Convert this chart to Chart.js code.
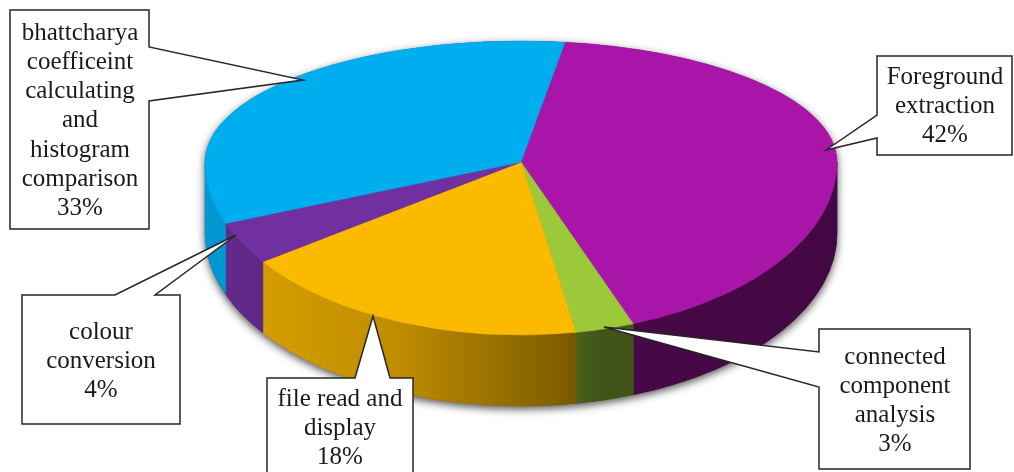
<!DOCTYPE html>
<html><head><meta charset="utf-8">
<script src="https://cdn.jsdelivr.net/npm/chart.js@4.4.0/dist/chart.umd.min.js"></script>
<style>html,body{margin:0;padding:0;background:#fff;overflow:hidden}#wrap{width:1014px;height:472px;position:relative}</style>
</head><body><div id="wrap"><canvas id="c" width="1014" height="472"></canvas></div>
<script>
// ---- data ----
const categories = ['Foreground extraction', 'connected component analysis', 'file read and display', 'colour conversion', 'bhattcharya coefficeint calculating and histogram comparison'];
const values = [42, 3, 18, 4, 33];
const sliceColors = ['#A815A8', '#9BC93A', '#FBBA00', '#7030A0', '#00ADEF'];
const labelLines = [
  ['Foreground', 'extraction'],
  ['connected', 'component', 'analysis'],
  ['file read and', 'display'],
  ['colour', 'conversion'],
  ['bhattcharya', 'coefficeint', 'calculating', 'and', 'histogram', 'comparison']
];
const startRotation = 8;

// ---- layout (positions/styles) ----
// perspective-like: far half flatter than near half, sharing the apex
const geom = {cx: 521, cy: 162, rx: 316, ryBack: 121, ryFront: 173, depth: 71};
const callouts = [
  {poly: [[877,56],[1012,56],[1012,155],[877,155],[877,138],[826,150],[877,115]], tx: 945, ty: 77},
  {poly: [[819,329],[970,329],[970,469],[819,469],[819,387],[604,327],[819,352]], tx: 895, ty: 357},
  {poly: [[267,378],[355,378],[373,316],[390,378],[413,378],[413,482],[267,482]], tx: 340, ty: 399},
  {poly: [[22,295],[115,295],[236,235],[155,295],[180,295],[180,424],[22,424]], tx: 101, ty: 332},
  {poly: [[10,10],[149,10],[149,47],[303,80],[149,101],[149,229],[10,229]], tx: 80, ty: 33}
];
const lineH = 29.3;

function shade(hex, f) {
  const n = parseInt(hex.slice(1), 16);
  const r = Math.round(((n >> 16) & 255) * f), g = Math.round(((n >> 8) & 255) * f), b = Math.round((n & 255) * f);
  return `rgb(${r},${g},${b})`;
}

function setHalf(ctx, arc, upper) {
  const {cx, cy, rx, ryBack, ryFront} = geom;
  const R = arc.outerRadius, xc = arc.x, yc = arc.y;
  const ry = upper ? ryBack : ryFront;
  ctx.translate(cx, cy);
  ctx.scale(rx / R, ry / R);
  ctx.translate(-xc, -yc);
  ctx.beginPath();
  if (upper) ctx.rect(xc - R - 4, yc - R - 4, 2 * R + 8, R + 4.3);
  else ctx.rect(xc - R - 4, yc - 0.6, 2 * R + 8, R + 5);
  ctx.clip();
}

const pie3d = {
  id: 'pie3d',
  beforeDatasetsDraw(chart) {
    const ctx = chart.ctx;
    const arcs = chart.getDatasetMeta(0).data;
    const {cx, cy, rx, ryBack, ryFront, depth} = geom;
    // soft shadow under the pie
    ctx.save();
    ctx.shadowColor = 'rgba(0,0,0,0.7)';
    ctx.shadowBlur = 9; ctx.shadowOffsetY = 3; ctx.shadowOffsetX = 0;
    ctx.beginPath();
    ctx.moveTo(cx + rx, cy);
    ctx.lineTo(cx + rx, cy + depth);
    ctx.ellipse(cx, cy + depth, rx, ryFront, 0, 0, Math.PI, false);
    ctx.lineTo(cx - rx, cy);
    ctx.ellipse(cx, cy, rx, ryBack, 0, Math.PI, 2 * Math.PI, false);
    ctx.closePath();
    ctx.fillStyle = '#333';
    ctx.fill();
    ctx.restore();
    // side walls (front half only)
    const TAU = Math.PI * 2;
    arcs.forEach((arc, i) => {
      let s = arc.startAngle, e = arc.endAngle;
      const off = Math.floor(s / TAU) * TAU; s -= off; e -= off;
      const col = sliceColors[i];
      const grad = ctx.createLinearGradient(cx - rx, 0, cx + rx, 0);
      grad.addColorStop(0, shade(col, 0.88));
      grad.addColorStop(0.3, shade(col, 0.76));
      grad.addColorStop(0.55, shade(col, 0.52));
      grad.addColorStop(0.63, shade(col, 0.42));
      grad.addColorStop(1, shade(col, 0.4));
      [[0, Math.PI], [TAU, TAU + Math.PI]].forEach(([lo, hi]) => {
        const a = Math.max(s, lo), b = Math.min(e, hi);
        if (b > a) {
          ctx.beginPath();
          ctx.ellipse(cx, cy, rx, ryFront, 0, a, b, false);
          ctx.lineTo(cx + rx * Math.cos(b), cy + depth + ryFront * Math.sin(b));
          ctx.ellipse(cx, cy + depth, rx, ryFront, 0, b, a, true);
          ctx.closePath();
          ctx.fillStyle = grad;
          ctx.fill();
          ctx.strokeStyle = grad; ctx.lineWidth = 0.8; ctx.stroke();
        }
      });
    });
    // top faces: far half drawn by Chart.js with the flatter transform
    ctx.save();
    setHalf(ctx, arcs[0], true);
  },
  afterDatasetsDraw(chart) {
    const ctx = chart.ctx;
    ctx.restore();
    // near half: same arc elements, deeper transform
    const arcs = chart.getDatasetMeta(0).data;
    ctx.save();
    setHalf(ctx, arcs[0], false);
    arcs.forEach(a => a.draw(ctx));
    ctx.restore();
  },
  afterDraw(chart) {
    const ctx = chart.ctx;
    ctx.save();
    callouts.forEach((c, i) => {
      ctx.beginPath();
      c.poly.forEach((p, k) => k ? ctx.lineTo(p[0], p[1]) : ctx.moveTo(p[0], p[1]));
      ctx.closePath();
      ctx.fillStyle = '#fff';
      ctx.fill();
      ctx.strokeStyle = '#262626';
      ctx.lineWidth = 1.5;
      ctx.lineJoin = 'miter';
      ctx.stroke();
      const lines = labelLines[i].concat([values[i] + '%']);
      ctx.fillStyle = '#1a1a1a';
      ctx.font = '25px "Liberation Serif", "Times New Roman", serif';
      ctx.textAlign = 'center';
      ctx.textBaseline = 'middle';
      lines.forEach((t, k) => ctx.fillText(t, c.tx, c.ty + k * lineH));
    });
    ctx.restore();
  }
};

new Chart(document.getElementById('c'), {
  type: 'pie',
  data: {
    labels: categories,
    datasets: [{
      data: values,
      backgroundColor: sliceColors,
      borderColor: sliceColors,
      borderWidth: 0.6,
      clip: false
    }]
  },
  options: {
    responsive: false,
    animation: false,
    devicePixelRatio: 1,
    events: [],
    rotation: startRotation,
    layout: {padding: 0},
    plugins: {legend: {display: false}, tooltip: {enabled: false}, title: {display: false}}
  },
  plugins: [pie3d]
});
</script></body></html>
